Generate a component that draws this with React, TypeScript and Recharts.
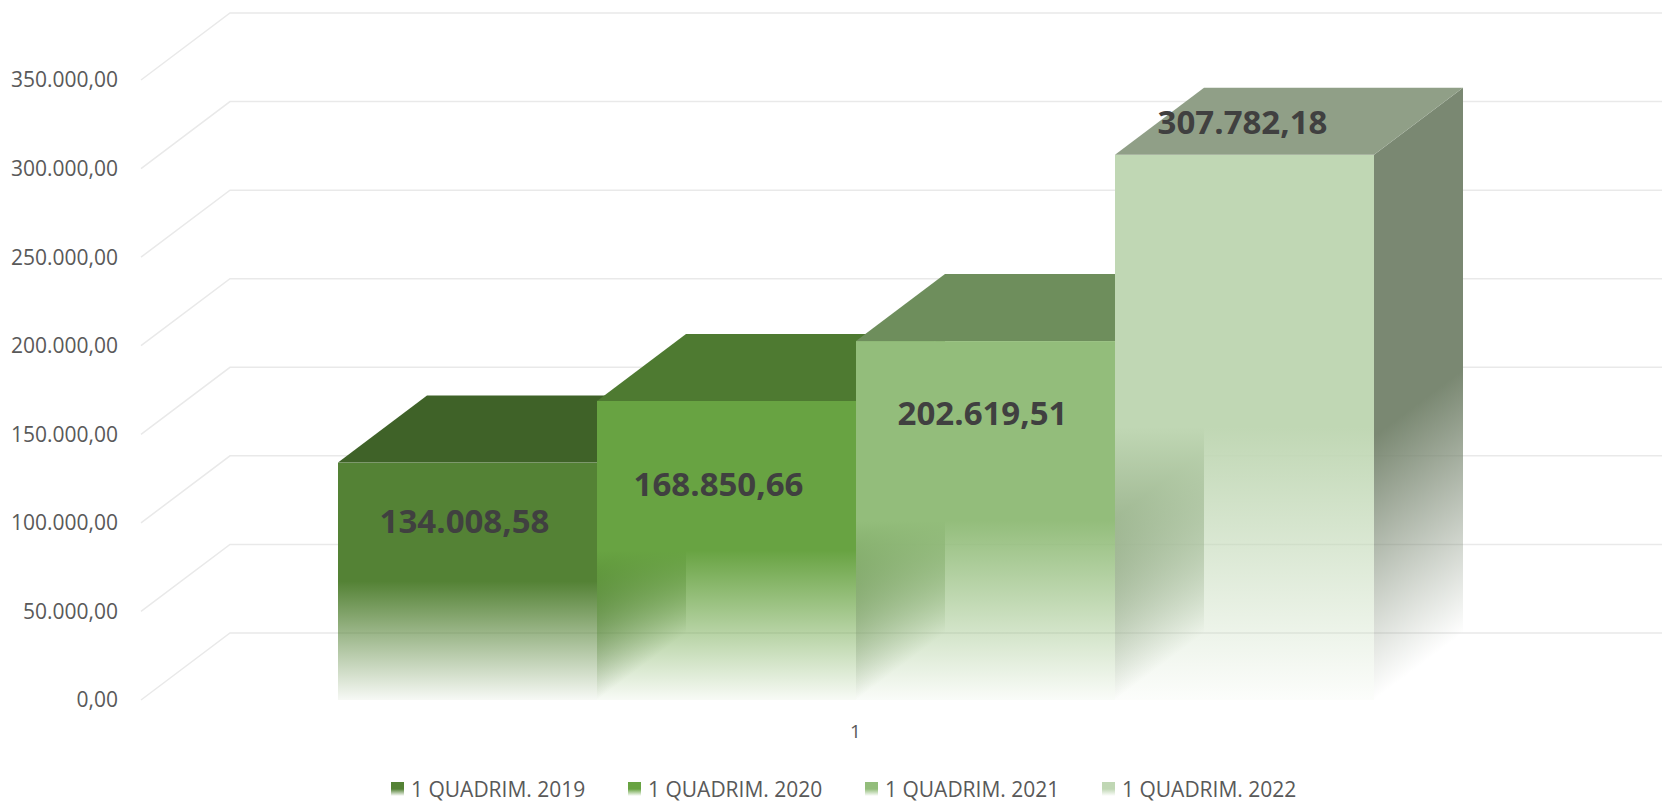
import React from 'react';
import { BarChart, Bar, XAxis, YAxis, CartesianGrid, Legend, LabelList } from 'recharts';

const categories = ['1'];
const seriesNames = ['1 QUADRIM. 2019', '1 QUADRIM. 2020', '1 QUADRIM. 2021', '1 QUADRIM. 2022'];
const values2019 = [134008.58];
const values2020 = [168850.66];
const values2021 = [202619.51];
const values2022 = [307782.18];
const yTicks = [0, 50000, 100000, 150000, 200000, 250000, 300000, 350000];

const seriesKeys = ['q2019', 'q2020', 'q2021', 'q2022'];
const seriesValues = [values2019, values2020, values2021, values2022];

const data = categories.map((name, i) => {
  const row: Record<string, string | number> = { name };
  seriesKeys.forEach((k, s) => {
    row[k] = seriesValues[s][i];
  });
  return row;
});

// look of each series (front face, top face, right side face)
const FRONT = ['#548235', '#68a342', '#93bd7b', '#c0d7b4'];
const TOP = ['#3f6228', '#4e7a31', '#6e8e5c', '#909f87'];
const SIDE = ['#355322', '#42682a', '#5d784e', '#7a8872'];
// Excel puts the 3D labels in odd places, offset from the bar top
const LABEL_DY = [58, 83, 71, -33];
const LABEL_DX = [-3, -8, -3, -2];

// depth of the fake 3D projection
const DX = 89;
const DY = 67;

const FONT = '"Open Sans", "DejaVu Sans", sans-serif';

const fmt = (v: number) => {
  const [int, dec] = v.toFixed(2).split('.');
  return int.replace(/\B(?=(\d{3})+(?!\d))/g, '.') + ',' + dec;
};

const makeBox = (s: number) => (props: any) => {
  const { x, y, width: w, height: h } = props;
  if (h == null || w == null) return null;
  const bx = x + w;
  const by = y + h;
  const L = h * 0.35 + 20;
  return (
    <g>
      <defs>
        <linearGradient id={`face${s}`} x1="0" y1="0" x2="0" y2="1">
          <stop offset="0" stopColor={FRONT[s]} stopOpacity={1} />
          <stop offset="0.5" stopColor={FRONT[s]} stopOpacity={1} />
          <stop offset="1" stopColor={FRONT[s]} stopOpacity={0.05} />
        </linearGradient>
        <linearGradient
          id={`side${s}`}
          gradientUnits="userSpaceOnUse"
          x1={bx - 0.6 * L}
          y1={by - 0.8 * L}
          x2={bx}
          y2={by}
        >
          <stop offset="0" stopColor={SIDE[s]} stopOpacity={1} />
          <stop offset="1" stopColor={SIDE[s]} stopOpacity={0} />
        </linearGradient>
      </defs>
      {/* right side */}
      <polygon
        points={`${bx},${y} ${bx + DX},${y - DY} ${bx + DX},${by - DY} ${bx},${by}`}
        fill={`url(#side${s})`}
      />
      {/* front */}
      <rect x={x} y={y} width={w} height={h} fill={`url(#face${s})`} />
      {/* top */}
      <polygon
        points={`${x},${y} ${x + DX},${y - DY} ${bx + DX},${y - DY} ${bx},${y}`}
        fill={TOP[s]}
      />
    </g>
  );
};

const makeLabel = (s: number) => (p: any) => (
  <text
    x={p.x + p.width / 2 + LABEL_DX[s]}
    y={p.y + LABEL_DY[s]}
    textAnchor="middle"
    dominantBaseline="central"
    fontFamily={FONT}
    fontWeight={700}
    fontSize={33}
    fill="#404040"
  >
    {fmt(Number(p.value))}
  </text>
);

const gridLine = (p: any) => (
  <path
    key={`g-${p.index}`}
    d={`M${p.x1},${p.y1} L${p.x1 + DX},${p.y1 - DY} L${p.x2 + DX + 3},${p.y1 - DY}`}
    stroke="#e9e9e9"
    strokeWidth={1.5}
    fill="none"
  />
);

const renderLegend = () => (
  <div
    style={{
      display: 'flex',
      justifyContent: 'center',
      alignItems: 'center',
      height: 38,
      paddingLeft: 27,
      fontFamily: FONT,
      fontSize: 21,
      color: '#595959',
    }}
  >
    {seriesNames.map((n, s) => (
      <div
        key={n}
        style={{
          display: 'flex',
          alignItems: 'center',
          width: s < seriesNames.length - 1 ? 237 : 196,
          whiteSpace: 'nowrap',
        }}
      >
        <span
          style={{
            display: 'inline-block',
            width: 13,
            height: 14,
            marginRight: 7,
            background: `linear-gradient(${FRONT[s]} 0%, ${FRONT[s]} 50%, rgba(255,255,255,0.9) 100%)`,
          }}
        />
        {n}
      </div>
    ))}
  </div>
);

export default function App() {
  return (
    <div style={{ position: 'absolute', left: 0, top: 0, width: 1662, height: 808, background: '#fff' }}>
      <BarChart
        width={1662}
        height={808}
        data={data}
        barGap={0}
        margin={{ top: 80, right: 92, left: 0, bottom: 0 }}
      >
        <CartesianGrid vertical={false} horizontal={gridLine} />
        <XAxis
          dataKey="name"
          axisLine={false}
          tickLine={false}
          height={70}
          tickSize={0}
          tickMargin={25}
          tick={{ fill: '#595959', fontSize: 19, fontFamily: FONT }}
        />
        <YAxis
          type="number"
          domain={[0, 350000]}
          ticks={yTicks}
          interval={0}
          width={141}
          axisLine={false}
          tickLine={false}
          tickSize={0}
          tickMargin={23}
          tick={{ fill: '#595959', fontSize: 21, fontFamily: FONT }}
          tickFormatter={fmt}
        />
        <Legend
          verticalAlign="bottom"
          height={38}
          content={renderLegend}
          wrapperStyle={{ left: 0, width: 1662, height: 38 }}
        />
        {seriesKeys.map((k, s) => (
          <Bar
            key={k}
            dataKey={k}
            name={seriesNames[s]}
            barSize={259}
            fill={FRONT[s]}
            shape={makeBox(s)}
            isAnimationActive={false}
          >
            <LabelList dataKey={k} content={makeLabel(s)} />
          </Bar>
        ))}
      </BarChart>
    </div>
  );
}
